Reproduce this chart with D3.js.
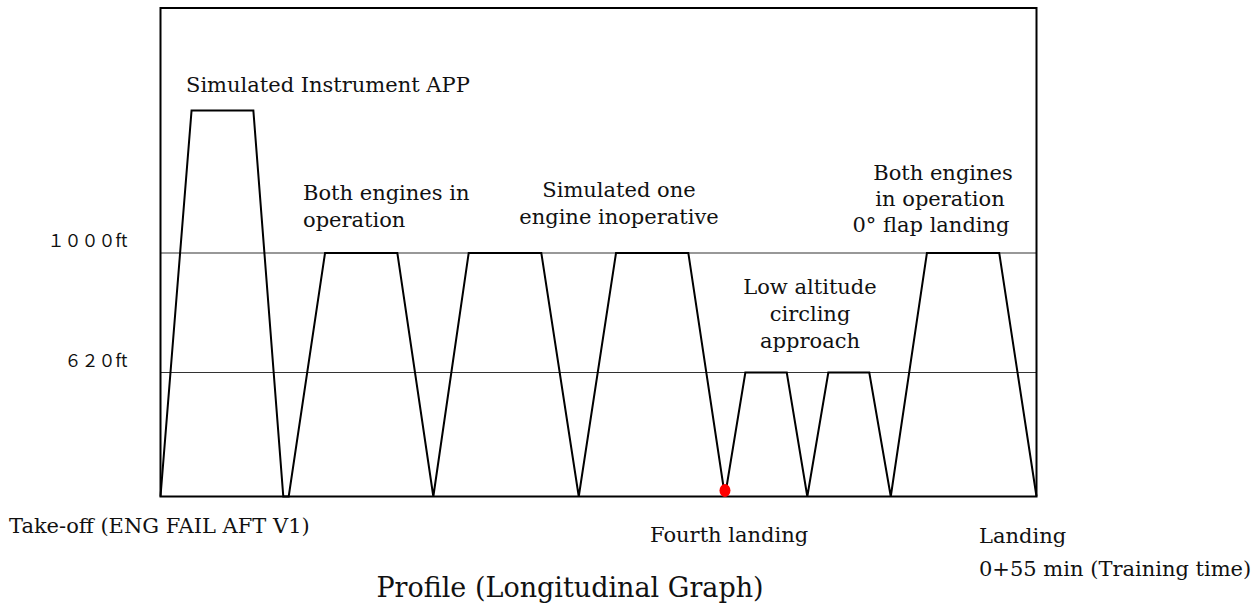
<!DOCTYPE html>
<html>
<head>
<meta charset="utf-8">
<script src="https://cdn.jsdelivr.net/npm/d3@7"></script>
<style>
  body { margin: 0; background: #fff; }
  text { fill: #111; }
</style>
</head>
<body>
<div id="chart"></div>
<script>
(function(d3) {

// flight profile: elapsed time (min) and altitude (ft)
var times = [0, 1.95, 5.83, 7.71, 8.05, 10.33, 14.87, 17.13, 19.35, 23.91, 26.26,
             28.60, 33.14, 35.44, 36.72, 39.32, 40.61, 41.93, 44.50, 45.85, 48.12, 52.66, 55];
var altitudes = [0, 1500, 1500, 0, 0, 1000, 1000, 0, 1000, 1000, 0,
                 1000, 1000, 0, 620, 620, 0, 620, 620, 0, 1000, 1000, 0];

// reference altitudes
var refLevels = [1000, 620];
var refLabels = ['１０００ft', '６２０ft'];

// fourth landing marker (time, altitude)
var markTime = 35.44;
var markAlt = 0;

// phase descriptions
var phaseLabels = [
  ['Simulated Instrument APP'],
  ['Both engines in', 'operation'],
  ['Simulated one', 'engine inoperative'],
  ['Low altitude', 'circling', 'approach'],
  ['Both engines', 'in operation', '0° flap landing']
];

var bottomLabels = ['Take-off (ENG FAIL AFT V1)', 'Fourth landing', 'Landing', '0+55 min (Training time)'];
var title = 'Profile (Longitudinal Graph)';

// dimensions
var width = 1260,
    height = 607,
    left = 160.5, right = 1036.5, top = 8, bottom = 496.5;

var svg = d3.select('#chart')
  .append('svg')
  .attr('width', width)
  .attr('height', height);

var x = d3.scaleLinear()
  .domain([0, 55])
  .range([left, right]);

// not drawn to scale in the original, so piecewise
var y = d3.scaleLinear()
  .domain([0, 620, 1000, 1500])
  .range([bottom, 372.5, 253, 110.5]);

var serif = '"DejaVu Serif", serif';

// reference lines
svg.selectAll('line.ref')
  .data(refLevels)
  .enter()
  .append('line')
  .attr('class', 'ref')
  .attr('x1', left)
  .attr('x2', right)
  .attr('y1', function(d) { return y(d); })
  .attr('y2', function(d) { return y(d); })
  .attr('stroke', '#333')
  .attr('stroke-width', 1.2);

// altitude labels via left axis
var axis = d3.axisLeft(y)
  .tickValues(refLevels)
  .tickSize(0)
  .tickPadding(33)
  .tickFormat(function(d, i) { return refLabels[i]; });

var ax = svg.append('g')
  .attr('transform', 'translate(' + left + ',0)')
  .call(axis);
ax.select('.domain').remove();
ax.selectAll('text')
  .attr('dy', '-0.38em')
  .style('font-family', '"Noto Sans CJK JP", sans-serif')
  .style('font-size', '17px')
  .style('fill', '#111');

// frame
svg.append('rect')
  .attr('x', left)
  .attr('y', top)
  .attr('width', right - left)
  .attr('height', bottom - top)
  .attr('fill', 'none')
  .attr('stroke', '#000')
  .attr('stroke-width', 2);

// profile line
var pts = times.map(function(t, i) { return [t, altitudes[i]]; });
var line = d3.line()
  .x(function(d) { return x(d[0]); })
  .y(function(d) { return y(d[1]); });

svg.append('path')
  .datum(pts)
  .attr('d', line)
  .attr('fill', 'none')
  .attr('stroke', '#000')
  .attr('stroke-width', 2)
  .attr('stroke-linejoin', 'miter');

// fourth landing marker
svg.append('ellipse')
  .attr('cx', x(markTime))
  .attr('cy', y(markAlt) - 6)
  .attr('rx', 5.5)
  .attr('ry', 6.5)
  .attr('fill', '#f00');

// phase labels layout: per-line x, first baseline, anchor
var phaseLayout = [
  {x: [186], y: 92, anchor: 'start'},
  {x: [303, 303], y: 200, anchor: 'start'},
  {x: [619, 619], y: 197, anchor: 'middle'},
  {x: [810, 810, 810], y: 294, anchor: 'middle'},
  {x: [943, 940, 931], y: 180, anchor: 'middle'}
];
var lineGap = 27;

phaseLabels.forEach(function(lines, i) {
  var p = phaseLayout[i];
  var gap = i === 4 ? 26 : lineGap;
  svg.append('g').selectAll('text')
    .data(lines)
    .enter()
    .append('text')
    .attr('x', function(d, j) { return p.x[j]; })
    .attr('y', function(d, j) { return p.y + j * gap; })
    .attr('text-anchor', p.anchor)
    .style('font-family', serif)
    .style('font-size', '21px')
    .text(function(d) { return d; });
});

// bottom labels
var bottomLayout = [[9, 533], [650, 542], [979, 543], [979, 576]];
svg.selectAll('text.bottom')
  .data(bottomLabels)
  .enter()
  .append('text')
  .attr('class', 'bottom')
  .attr('x', function(d, i) { return bottomLayout[i][0]; })
  .attr('y', function(d, i) { return bottomLayout[i][1]; })
  .style('font-family', serif)
  .style('font-size', '21px')
  .text(function(d) { return d; });

svg.append('text')
  .attr('x', 570)
  .attr('y', 597)
  .attr('text-anchor', 'middle')
  .style('font-family', serif)
  .style('font-size', '27px')
  .text(title);

})(window.d3);
</script>
</body>
</html>
